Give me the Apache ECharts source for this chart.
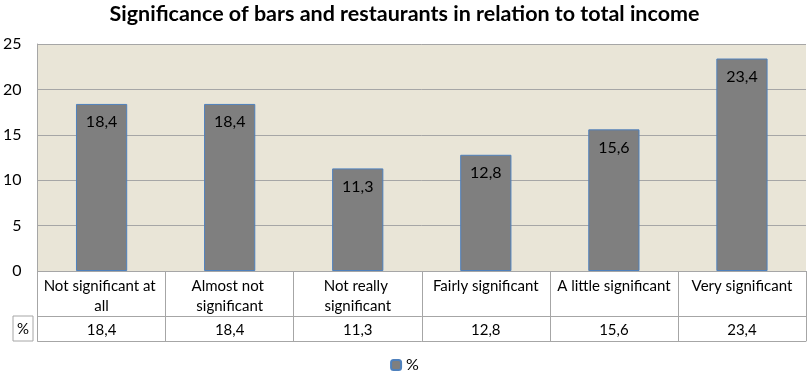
<!DOCTYPE html>
<html>
<head>
<meta charset="utf-8">
<script src="https://cdn.jsdelivr.net/npm/echarts@6/dist/echarts.min.js"></script>
<style>
  html, body { margin: 0; padding: 0; background: #fff; }
  #chart { width: 809px; height: 372px; }
</style>
</head>
<body>
<div id="chart"></div>
<script>
var title = 'Significance of bars and restaurants in relation to total income';
var seriesName = '%';
var categories = ['Not significant at all', 'Almost not significant', 'Not really significant',
                  'Fairly significant', 'A little significant', 'Very significant'];
var values = [18.4, 18.4, 11.3, 12.8, 15.6, 23.4];
var yTicks = { min: 0, max: 25, step: 5 };

var FONT = 'Lato';
var LINE = '#a6a6a6';

function fmt(v) {
    return String(v).replace('.', ',');
}

var myChart = echarts.init(document.getElementById('chart'));

var option = {
    animation: false,
    textStyle: { fontFamily: FONT },
    title: {
        text: title,
        left: 'center',
        top: -2,
        textStyle: { fontSize: 21.5, fontWeight: 'bold', color: '#000', fontFamily: FONT }
    },
    legend: {
        data: [seriesName],
        bottom: -1,
        left: 'center',
        padding: 0,
        itemWidth: 10,
        itemHeight: 10,
        itemGap: 5,
        textStyle: { fontSize: 16, color: '#000' }
    },
    grid: {
        left: 33,
        right: 3,
        top: 44,
        height: 227,
        show: true,
        backgroundColor: '#E9E5D7',
        borderWidth: 0
    },
    xAxis: [
        {
            type: 'category',
            data: categories,
            position: 'bottom',
            axisLine: { show: true, lineStyle: { color: LINE } },
            axisTick: { show: true, length: 70, lineStyle: { color: LINE } },
            axisLabel: {
                margin: 5,
                color: '#000',
                fontSize: 15,
                lineHeight: 20,
                width: 122,
                overflow: 'break',
                interval: 0
            }
        },
        {
            type: 'category',
            data: values.map(fmt),
            position: 'bottom',
            offset: 45,
            axisLine: { show: true, lineStyle: { color: LINE } },
            axisTick: { show: false },
            axisLabel: { margin: 7, color: '#000', fontSize: 15, interval: 0 }
        },
        {
            type: 'category',
            data: categories,
            position: 'bottom',
            offset: 70,
            axisLine: { show: true, lineStyle: { color: LINE } },
            axisTick: { show: false },
            axisLabel: { show: false }
        }
    ],
    yAxis: {
        type: 'value',
        min: yTicks.min,
        max: yTicks.max,
        interval: yTicks.step,
        axisLine: { show: true, lineStyle: { color: LINE } },
        axisTick: { show: false },
        axisLabel: { color: '#000', fontSize: 16, margin: 16 },
        splitLine: { lineStyle: { color: LINE } }
    },
    graphic: [
        {
            type: 'rect',
            shape: { x: 13, y: 316, width: 20, height: 25 },
            style: { fill: 'none', stroke: LINE, lineWidth: 1 }
        },
        {
            type: 'text',
            x: 23,
            y: 329,
            style: {
                text: seriesName,
                fill: '#000',
                font: '15px ' + FONT,
                textAlign: 'center',
                textVerticalAlign: 'middle'
            }
        }
    ],
    series: [
        {
            name: seriesName,
            type: 'bar',
            xAxisIndex: 0,
            data: values,
            barWidth: '40%',
            itemStyle: { color: '#7F7F7F', borderColor: '#4F81BD', borderWidth: 1 },
            label: {
                show: true,
                position: 'insideTop',
                distance: 10,
                color: '#000',
                fontSize: 16,
                formatter: function (p) { return fmt(p.value); }
            }
        }
    ]
};

myChart.setOption(option);
</script>
</body>
</html>
